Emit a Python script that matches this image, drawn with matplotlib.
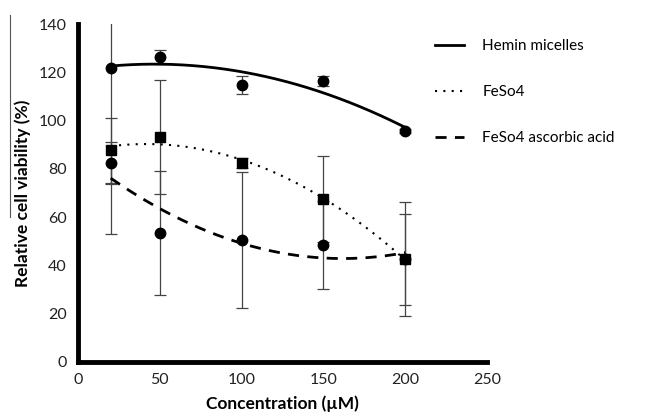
import numpy as np
import matplotlib.pyplot as plt
from matplotlib.lines import Line2D

plt.rcParams['font.family'] = ['Lato', 'DejaVu Sans']

conc = [20, 50, 100, 150, 200]

hemin = [122, 126.3, 114.7, 116.4, 95.7]
hemin_err = [69, 3, 3.8, 2, 1]

feso4 = [87.8, 93.2, 82.4, 67.5, 42.7]
feso4_err = [13.5, 23.6, 2, 17.8, 23.6]

ascorbic = [82.4, 53.4, 50.5, 48.5, 42.5]
ascorbic_err = [8.6, 25.6, 28.1, 18.3, 19]

fig = plt.figure(figsize=(6.47, 4.17), dpi=100)
ax = fig.add_axes([0.1206, 0.132, 0.632, 0.810])

# error bars + points
ax.errorbar(conc, hemin, yerr=hemin_err, fmt='o', color='black', ms=7.5,
            ecolor='#444444', elinewidth=0.9, capsize=4, capthick=0.9)
ax.errorbar(conc, feso4, yerr=feso4_err, fmt='s', color='black', ms=7,
            ecolor='#444444', elinewidth=0.9, capsize=4, capthick=0.9)
ax.errorbar(conc, ascorbic, yerr=ascorbic_err, fmt='o', color='black', ms=7.5,
            ecolor='#444444', elinewidth=0.9, capsize=4, capthick=0.9)

# polynomial trend lines (order 2)
xs = np.linspace(20, 200, 200)
for y, ls, lw, lab in [(hemin, '-', 2.0, 'Hemin micelles'),
                       (feso4, (0, (1, 3)), 1.5, 'FeSo4'),
                       (ascorbic, (0, (4, 3)), 2.0, 'FeSo4 ascorbic acid')]:
    p = np.polyfit(conc, y, 2)
    ax.plot(xs, np.polyval(p, xs), color='black', ls=ls, lw=lw, label=lab)

ax.set_xlim(0, 250)
ax.set_ylim(0, 140)
ax.set_xticks([0, 50, 100, 150, 200, 250])
ax.set_yticks(range(0, 141, 20))
ax.tick_params(length=0, labelsize=11.5, colors='#222222', pad=8)
for s in ['top', 'right']:
    ax.spines[s].set_visible(False)
for s in ['left', 'bottom']:
    ax.spines[s].set_linewidth(3.5)

ax.set_xlabel('Concentration (\u00b5M)', fontsize=12.5, fontweight='bold', labelpad=6)
ax.set_ylabel('Relative cell viability (%)', fontsize=12.5, fontweight='bold', labelpad=6)

fig.legend(loc='upper left', bbox_to_anchor=(435 / 647, 1 - 39 / 417),
           bbox_transform=fig.transFigure, frameon=False,
           fontsize=11, handlelength=1.9, labelspacing=2.1, handletextpad=1.2,
           borderaxespad=0, borderpad=0)

# thin stray line at far left of the original figure
fig.add_artist(Line2D([10 / 647, 10 / 647], [1 - 15 / 417, 1 - 217 / 417],
                      color='#555555', lw=0.8))

fig.savefig('out.png', dpi=100)
